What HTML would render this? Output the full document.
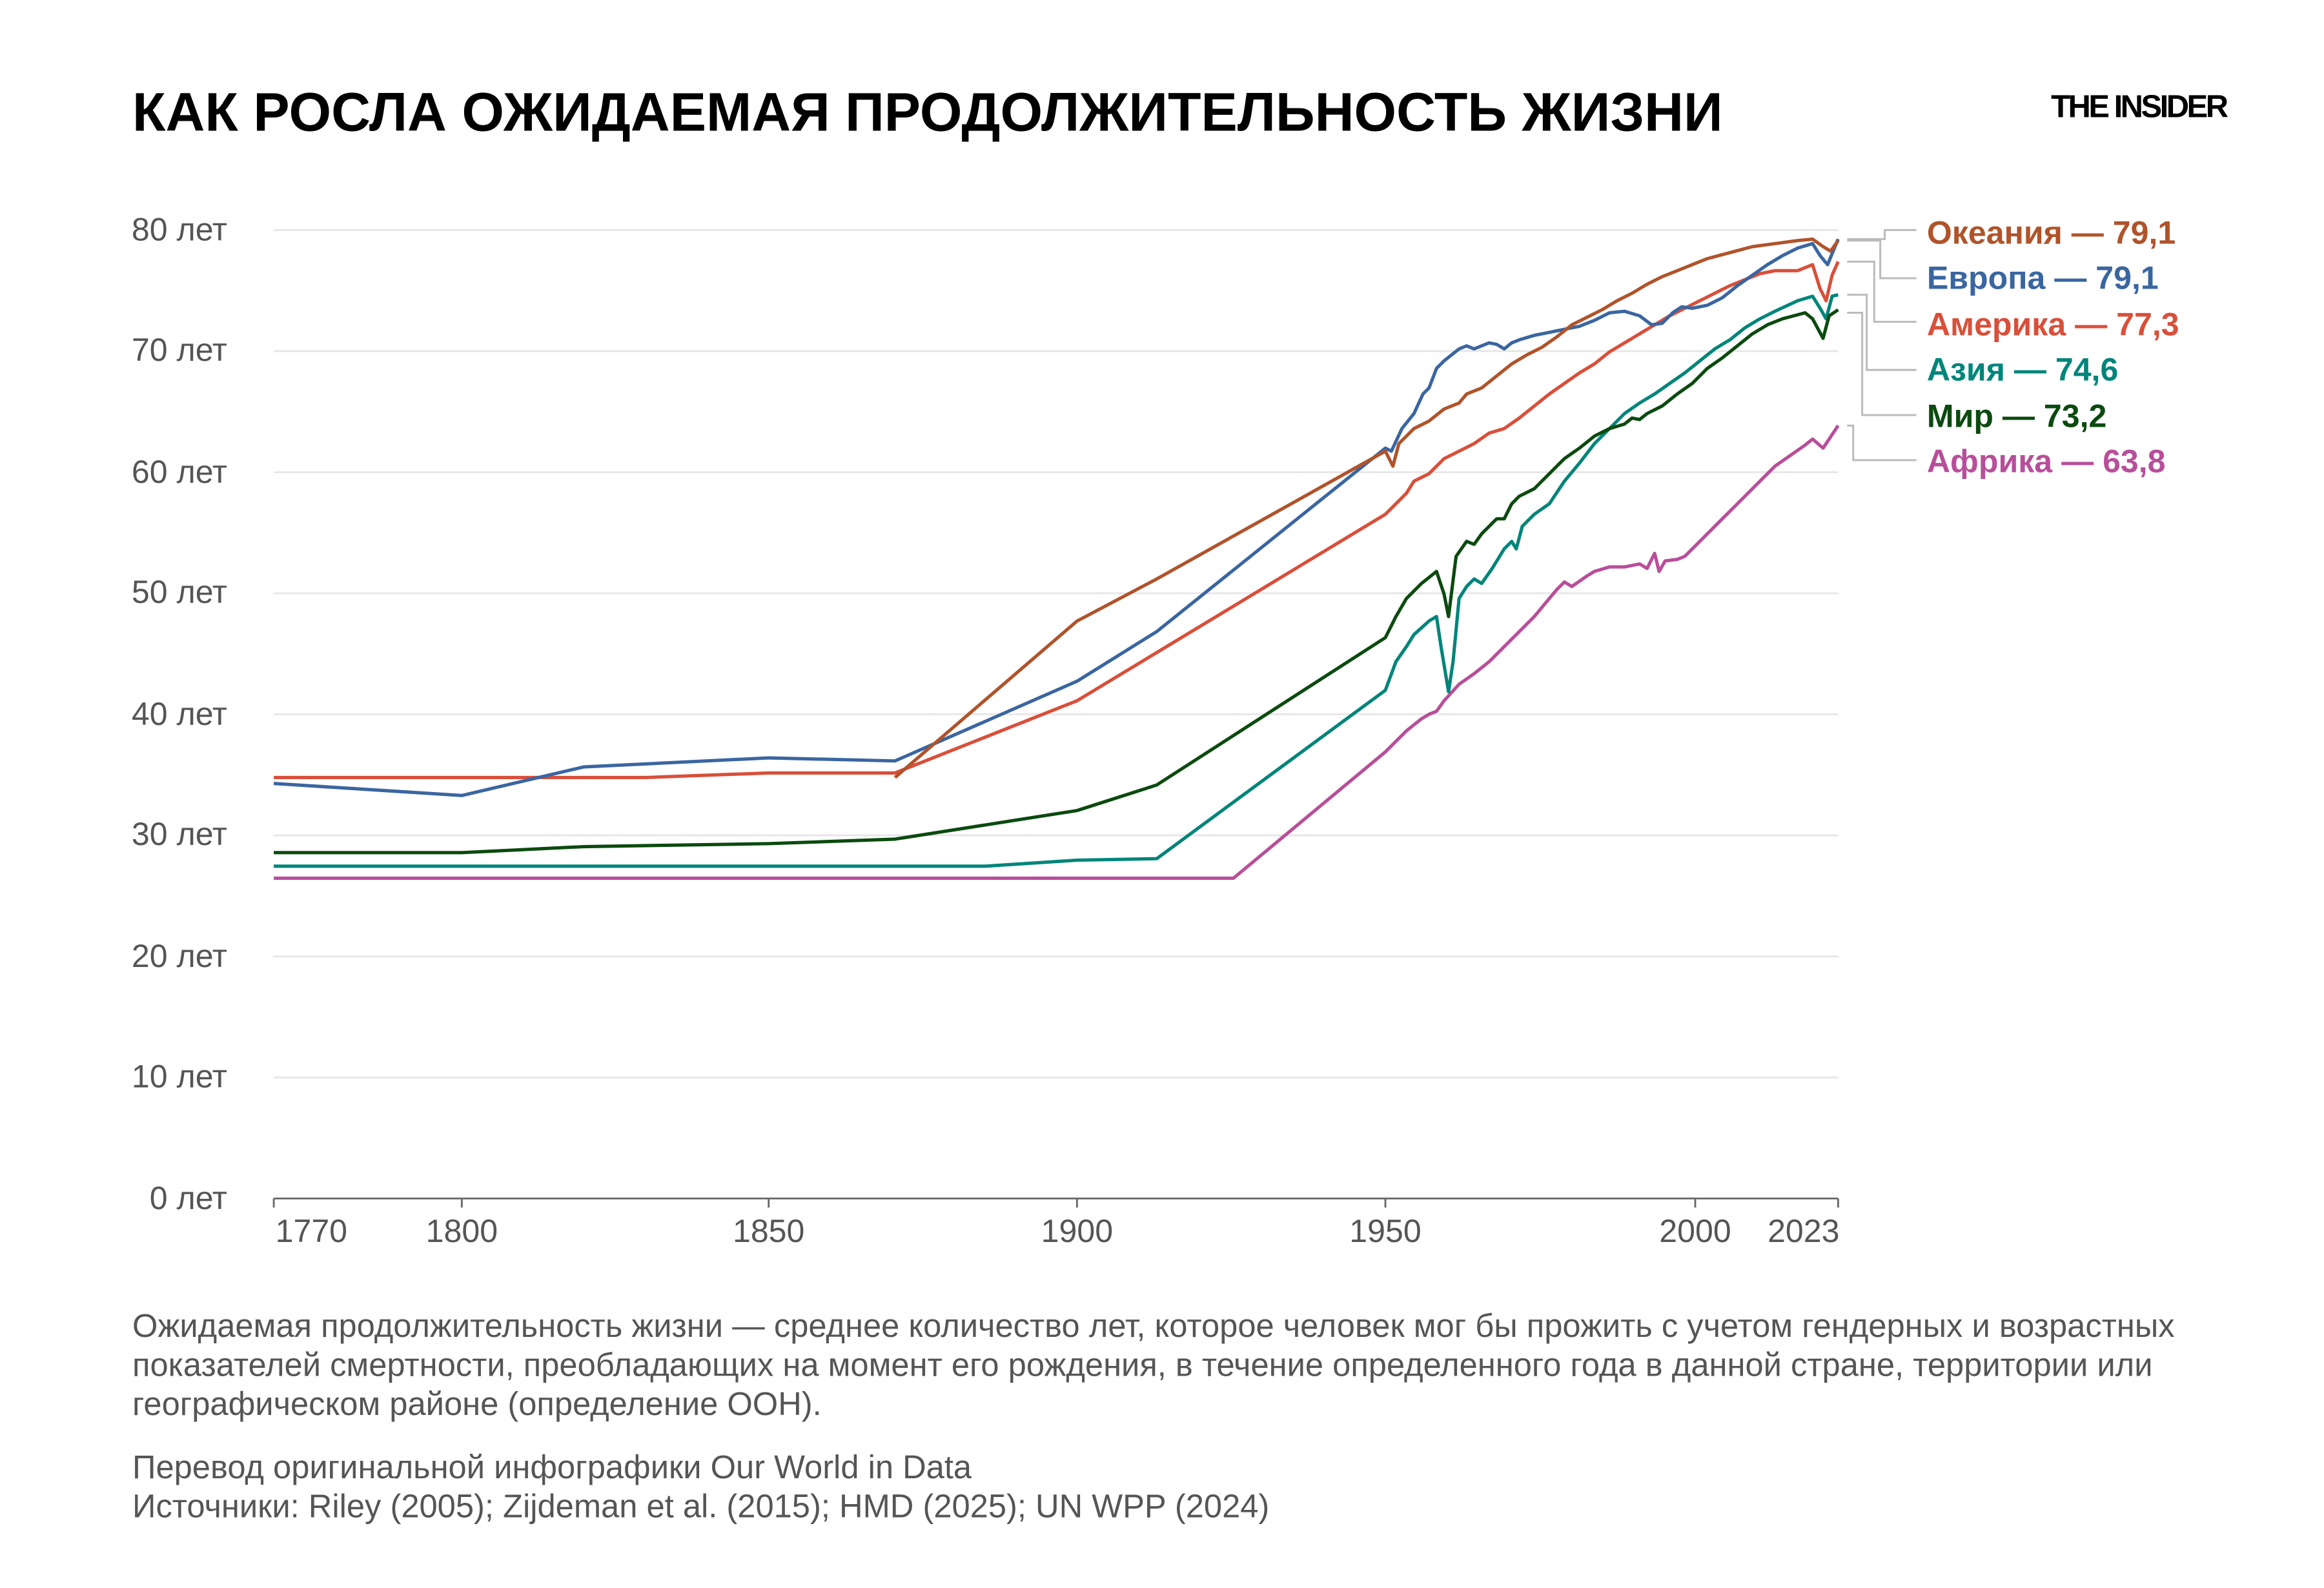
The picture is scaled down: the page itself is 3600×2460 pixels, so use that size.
<!DOCTYPE html>
<html><head><meta charset="utf-8">
<style>
html,body{margin:0;padding:0;background:#fff;}
svg{display:block;}
text{font-family:"Liberation Sans",sans-serif;}
</style></head>
<body>
<svg width="3600" height="2460" viewBox="0 0 1545 1056" preserveAspectRatio="none" xmlns="http://www.w3.org/2000/svg">
<rect width="1545" height="1056" fill="#fff"/>
<text x="88" y="87" font-size="36.2" font-weight="bold" fill="#000">КАК РОСЛА ОЖИДАЕМАЯ ПРОДОЛЖИТЕЛЬНОСТЬ ЖИЗНИ</text>
<text x="1480" y="78" font-size="21" font-weight="bold" fill="#000" text-anchor="end" letter-spacing="-1.5">THE INSIDER</text>

<g stroke="#e6e6e6" stroke-width="1.2">
<line x1="182" x2="1222" y1="153" y2="153"/><line x1="182" x2="1222" y1="233.5" y2="233.5"/>
<line x1="182" x2="1222" y1="314" y2="314"/><line x1="182" x2="1222" y1="394.5" y2="394.5"/>
<line x1="182" x2="1222" y1="475" y2="475"/><line x1="182" x2="1222" y1="555.5" y2="555.5"/>
<line x1="182" x2="1222" y1="636" y2="636"/><line x1="182" x2="1222" y1="716.5" y2="716.5"/>
</g>
<line x1="182" x2="1222" y1="797" y2="797" stroke="#666" stroke-width="1.2"/>
<g stroke="#666" stroke-width="1.2">
<line x1="182" x2="182" y1="797" y2="803"/><line x1="307" x2="307" y1="797" y2="803"/>
<line x1="511" x2="511" y1="797" y2="803"/><line x1="716" x2="716" y1="797" y2="803"/>
<line x1="921" x2="921" y1="797" y2="803"/><line x1="1127" x2="1127" y1="797" y2="803"/>
<line x1="1222" x2="1222" y1="797" y2="803"/>
</g>
<g font-size="21.5" fill="#555" text-anchor="end">
<text x="151" y="160">80 лет</text><text x="151" y="240">70 лет</text>
<text x="151" y="321">60 лет</text><text x="151" y="401">50 лет</text>
<text x="151" y="482">40 лет</text><text x="151" y="562">30 лет</text>
<text x="151" y="643">20 лет</text><text x="151" y="723">10 лет</text>
<text x="151" y="804">0 лет</text>
</g>
<g font-size="21.5" fill="#555" text-anchor="middle">
<text x="207" y="826">1770</text><text x="307" y="826">1800</text>
<text x="511" y="826">1850</text><text x="716" y="826">1900</text>
<text x="921" y="826">1950</text><text x="1127" y="826">2000</text>
<text x="1199" y="826">2023</text>
</g>

<g fill="none" stroke-width="2.2" stroke-linejoin="round">
<polyline stroke="#b84e9a" points="182,584 820,584 921,500 935,486 945,478 950,475 955,473 960,466 970,455 980,448 990,440 1000,430 1010,420 1020,410 1030,398 1035,392 1040,387 1045,390 1055,383 1060,380 1070,377 1080,377 1090,375 1095,378 1100,368 1103,380 1107,373 1115,372 1120,370 1125,365 1130,360 1140,350 1150,340 1160,330 1170,320 1180,310 1190,303 1200,296 1205,292 1212,298 1222,283"/>
<polyline stroke="#00857a" points="182,576 655,576 716,572 769,571 921,459 928,440 935,430 940,422 950,413 955,410 958,430 963,460 966,440 970,398 975,390 980,385 985,388 992,378 1000,365 1005,360 1008,365 1012,350 1020,342 1030,335 1040,320 1050,308 1060,295 1070,285 1080,275 1090,268 1100,262 1110,255 1120,248 1130,240 1140,232 1150,226 1160,218 1170,212 1180,207 1195,200 1205,197 1210,205 1214,212 1218,197 1222,196"/>
<polyline stroke="#0b4a0f" points="182,567 307,567 388,563 511,561 595,558 716,539 769,522 921,424 928,410 935,398 945,388 955,380 960,395 963,410 968,370 975,360 980,362 985,355 990,350 995,345 1000,345 1005,335 1010,330 1020,325 1030,315 1040,305 1050,298 1060,290 1070,285 1080,282 1085,278 1090,279 1095,275 1105,270 1115,262 1125,255 1135,245 1145,238 1155,230 1165,222 1175,216 1185,212 1200,208 1205,212 1212,225 1216,210 1222,206"/>
<polyline stroke="#d94f3a" points="182,517 430,517 511,514 595,514 716,466 921,342 935,328 940,320 950,315 960,305 970,300 980,295 990,288 1000,285 1010,278 1020,270 1030,262 1040,255 1050,248 1060,242 1070,234 1080,228 1090,222 1100,216 1110,210 1120,205 1130,200 1140,195 1150,190 1160,186 1170,182 1180,180 1195,180 1205,176 1210,192 1214,200 1218,183 1222,174"/>
<polyline stroke="#3a66a0" points="182,521 307,529 388,510 511,504 595,506 716,453 769,420 921,298 925,300 932,285 940,275 946,262 950,258 955,245 960,240 965,236 970,232 975,230 980,232 985,230 990,228 995,229 1000,232 1005,228 1010,226 1020,223 1030,221 1040,219 1050,217 1060,213 1070,208 1080,207 1090,210 1098,216 1105,215 1112,208 1118,204 1125,205 1135,203 1145,198 1155,190 1165,183 1175,176 1185,170 1195,165 1205,162 1210,170 1215,176 1222,159"/>
<polyline stroke="#b0532a" points="595,517 716,413 769,385 921,300 926,310 930,295 940,285 950,280 960,272 970,268 975,262 985,258 995,250 1005,242 1015,236 1025,231 1035,224 1045,216 1055,211 1065,206 1075,200 1085,195 1095,189 1105,184 1115,180 1125,176 1135,172 1150,168 1165,164 1180,162 1195,160 1205,159 1212,164 1217,167 1222,160"/>
</g>

<g fill="none" stroke="#bbb" stroke-width="1.3">
<polyline points="1228,159 1253,159 1253,153 1274,153"/>
<polyline points="1228,160 1250,160 1250,185 1274,185"/>
<polyline points="1228,174 1246,174 1246,214 1274,214"/>
<polyline points="1228,196 1241,196 1241,246 1274,246"/>
<polyline points="1228,208 1238,208 1238,276 1274,276"/>
<polyline points="1228,283 1232,283 1232,306 1274,306"/>
</g>
<g font-size="21.5" font-weight="bold">
<text x="1281" y="162" fill="#b0532a">Океания — 79,1</text>
<text x="1281" y="192" fill="#3a66a0">Европа — 79,1</text>
<text x="1281" y="223" fill="#d94f3a">Америка — 77,3</text>
<text x="1281" y="253" fill="#00857a">Азия — 74,6</text>
<text x="1281" y="284" fill="#0b4a0f">Мир — 73,2</text>
<text x="1281" y="314" fill="#b84e9a">Африка — 63,8</text>
</g>

<g font-size="21.75" fill="#555">
<text x="88" y="889">Ожидаемая продолжительность жизни — среднее количество лет, которое человек мог бы прожить с учетом гендерных и возрастных</text>
<text x="88" y="915">показателей смертности, преобладающих на момент его рождения, в течение определенного года в данной стране, территории или</text>
<text x="88" y="941">географическом районе (определение ООН).</text>
<text x="88" y="983">Перевод оригинальной инфографики Our World in Data</text>
<text x="88" y="1009">Источники: Riley (2005); Zijdeman et al. (2015); HMD (2025); UN WPP (2024)</text>
</g>
</svg>
</body></html>
